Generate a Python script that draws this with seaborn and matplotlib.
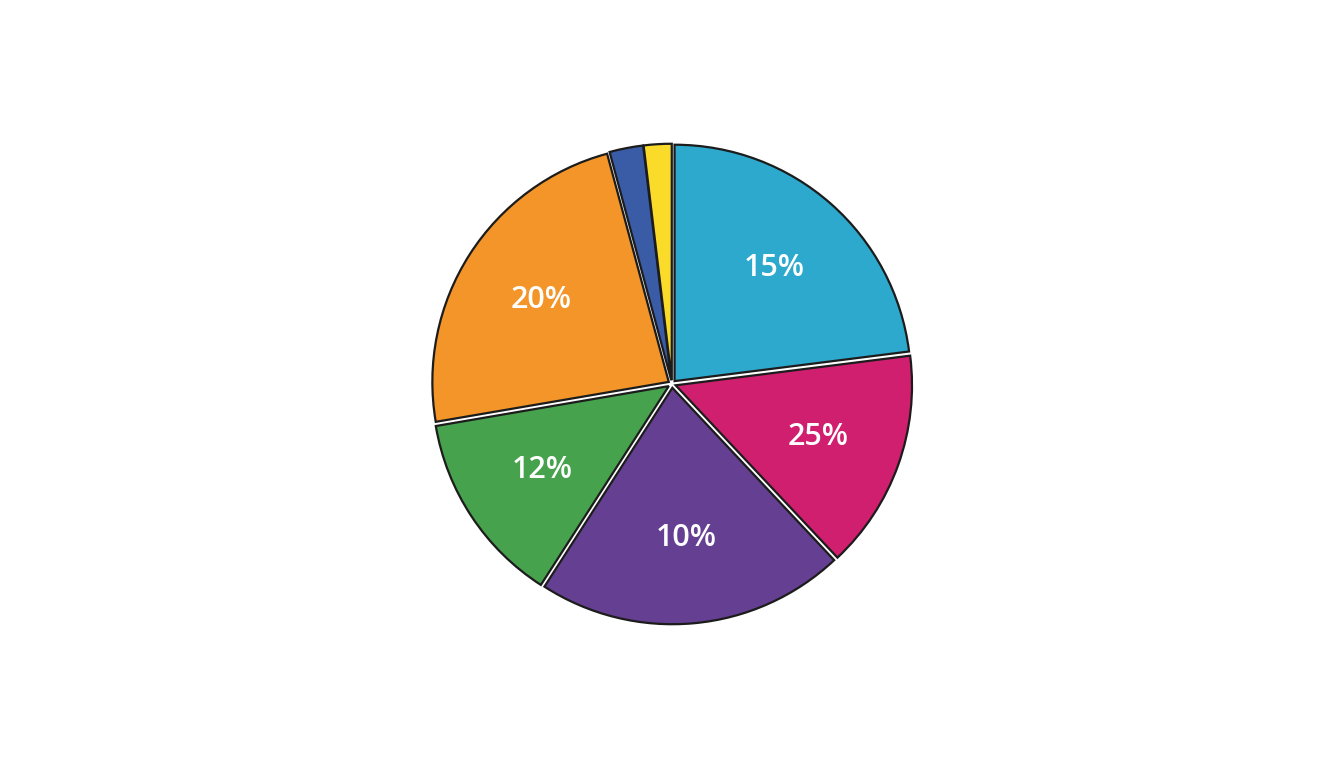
import matplotlib
matplotlib.use("Agg")
import matplotlib.pyplot as plt
import seaborn as sns

# slice sizes (share of circle) and printed labels
shares = [23.0, 15.0, 21.1, 13.2, 23.5, 2.3, 1.9]
labels = ["15%", "25%", "10%", "12%", "20%", "", ""]
colors = ["#2EA9CE", "#CF1F6E", "#653F91", "#47A24E", "#F39528", "#3A5BA5", "#FADB2A"]

sns.set_theme(style="white")
plt.rcParams["font.family"] = ["Open Sans", "DejaVu Sans"]

fig = plt.figure(figsize=(13.44, 7.68), dpi=100)
# axes box centred on the pie, radius ~240px
size = 2 * 240 * 1.1
ax = fig.add_axes([(672 - size / 2) / 1344, (384 - size / 2) / 768, size / 1344, size / 768])

wedges, texts = ax.pie(
    shares,
    labels=labels,
    colors=colors,
    startangle=90,
    counterclock=False,
    radius=0.985,
    explode=[0.016] * len(shares),
    labeldistance=0.64,
    wedgeprops=dict(edgecolor="#1c1c1c", linewidth=1.6),
    textprops=dict(color="white", fontsize=22, fontweight="semibold",
                   ha="center", va="center"),
)
ax.set_xlim(-1.1, 1.1)
ax.set_ylim(-1.1, 1.1)
ax.set_aspect("equal")
ax.axis("off")

fig.savefig("out.png", dpi=100, facecolor="white")
